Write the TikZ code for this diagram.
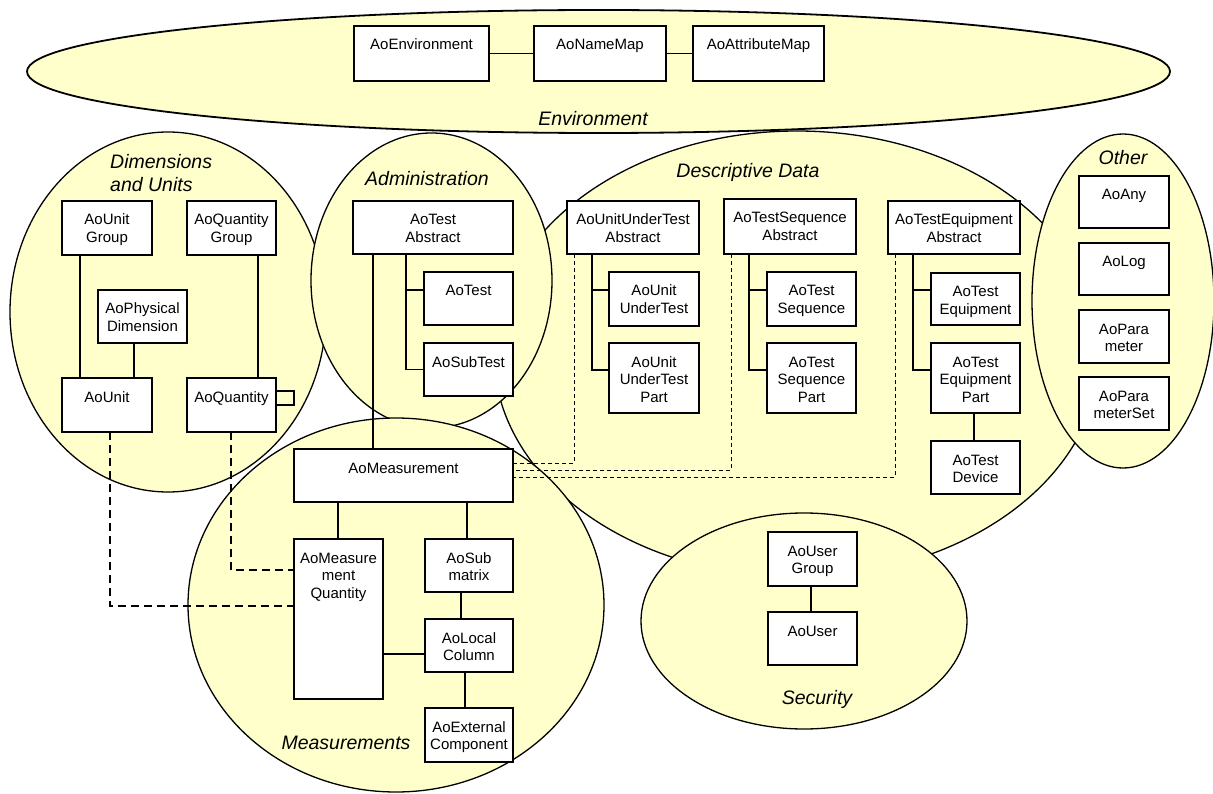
\documentclass[tikz,border=0pt]{standalone}
\usepackage{fontspec}
\setmainfont{Liberation Sans}
\definecolor{regfill}{RGB}{255,255,204}
\newcommand{\bx}[3]{\parbox[c][#2pt][t]{#1pt}{\centering\rule{0pt}{24pt}#3}}
\tikzset{
  region/.style={draw=black, fill=regfill, line width=1.3pt},
  box/.style={draw=black, fill=white, line width=1.6pt, inner sep=0pt, outer sep=0pt,
              anchor=north west, font=\fontsize{15}{17.5}\selectfont},
  conn/.style={line width=1.5pt},
  ddash/.style={line width=1.4pt, dash pattern=on 8pt off 5pt},
  tdash/.style={line width=1pt, dash pattern=on 4pt off 3pt},
  rlabel/.style={font=\fontsize{19.5}{23}\selectfont\itshape, inner sep=0pt, anchor=base},
}
\begin{document}
\begin{tikzpicture}[x=1pt,y=-1pt]
\useasboundingbox (0,0) rectangle (1213,794);
% regions
\draw[region, line width=1.8pt] (598.5,71.5) ellipse [x radius=571.5pt, y radius=61.5pt];
\draw[region] (797,354) ellipse [x radius=303pt, y radius=223pt];
\draw[region] (168,312) ellipse [x radius=158pt, y radius=180pt];
\draw[region] (431.5,280.5) ellipse [x radius=120.5pt, y radius=147.5pt];
\draw[region] (396,605) ellipse [x radius=208pt, y radius=187pt];
\draw[region] (1123,301) ellipse [x radius=91pt, y radius=167pt];
\draw[region] (804,621) ellipse [x radius=163pt, y radius=108pt];
% region labels
\node[rlabel] (lenv) at (593,126) {Environment};
\node[rlabel, anchor=base west, align=left] (ldim) at (110,192) {Dimensions\\and Units};
\node[rlabel] (ladm) at (427,186) {Administration};
\node[rlabel] (ldesc) at (748,178) {Descriptive Data};
\node[rlabel] (loth) at (1123,165) {Other};
\node[rlabel] (lmeas) at (346,749) {Measurements};
\node[rlabel] (lsec) at (817,704) {Security};
% boxes
\node[box] (env) at (354,26) {\bx{135}{55}{AoEnvironment}};
\node[box] (nmap) at (534,26) {\bx{132}{55}{AoNameMap}};
\node[box] (amap) at (693,26) {\bx{131}{55}{AoAttributeMap}};
\node[box] (ug) at (62,201) {\bx{90}{54}{AoUnit\\Group}};
\node[box] (qg) at (187,201) {\bx{89}{54}{AoQuantity\\Group}};
\node[box] (pd) at (98,290) {\bx{89}{53}{AoPhysical\\Dimension}};
\node[box] (unit) at (62,378) {\bx{90}{54}{AoUnit}};
\node[box] (qty) at (187,378) {\bx{89}{54}{AoQuantity}};
\node[box] (tabs) at (353,201) {\bx{160}{53}{AoTest\\Abstract}};
\node[box] (test) at (424,272) {\bx{89}{53}{AoTest}};
\node[box] (subtest) at (424,343) {\bx{89}{53}{AoSubTest}};
\node[box] (uutabs) at (567,201) {\bx{132}{53}{AoUnitUnderTest\\Abstract}};
\node[box] (uut) at (609,272) {\bx{90}{54}{AoUnit\\UnderTest}};
\node[box] (uutpart) at (609,343) {\bx{90}{70}{AoUnit\\UnderTest\\Part}};
\node[box] (seqabs) at (724,199) {\bx{132}{55}{AoTestSequence\\Abstract}};
\node[box] (seq) at (767,272) {\bx{89}{54}{AoTest\\Sequence}};
\node[box] (seqpart) at (767,343) {\bx{89}{70}{AoTest\\Sequence\\Part}};
\node[box] (eqabs) at (888,201) {\bx{132}{53}{AoTestEquipment\\Abstract}};
\node[box] (eq) at (931,273) {\bx{89}{52}{AoTest\\Equipment}};
\node[box] (eqpart) at (931,343) {\bx{89}{70}{AoTest\\Equipment\\Part}};
\node[box] (dev) at (931,441) {\bx{89}{53}{AoTest\\Device}};
\node[box] (any) at (1079,176) {\bx{90}{52}{AoAny}};
\node[box] (log) at (1079,243) {\bx{90}{52}{AoLog}};
\node[box] (param) at (1079,310) {\bx{90}{53}{AoPara\\meter}};
\node[box] (pset) at (1079,377) {\bx{90}{53}{AoPara\\meterSet}};
\node[box] (meas) at (294,449) {\bx{219}{53}{AoMeasurement}};
\node[box] (mq) at (294,539) {\bx{89}{160}{AoMeasure\\ment\\Quantity}};
\node[box] (sub) at (425,539) {\bx{88}{53}{AoSub\\matrix}};
\node[box] (lc) at (425,619) {\bx{88}{53}{AoLocal\\Column}};
\node[box] (ext) at (425,708) {\bx{88}{54}{AoExternal\\Component}};
\node[box] (ugrp) at (768,532) {\bx{89}{54}{AoUser\\Group}};
\node[box] (user) at (768,612) {\bx{89}{53}{AoUser}};
% solid connectors
\begin{scope}[conn]
\draw (env.east) -- (nmap.west);
\draw (nmap.east) -- (amap.west);
\draw ([xshift=18pt]ug.south west) -- ([xshift=18pt]unit.north west);
\draw ([xshift=71pt]qg.south west) -- ([xshift=71pt]qty.north west);
\draw ([xshift=36pt]pd.south west) -- ([xshift=72pt]unit.north west);
\draw ([yshift=14pt]qty.east) -- ++(18,0) |- (qty.east);
\draw ([xshift=53pt]tabs.south west) |- ([yshift=8.5pt]test.west);
\draw ([xshift=53pt]tabs.south west) |- (subtest.west);
\draw ([xshift=20pt]tabs.south west) -- ([xshift=79pt]meas.north west);
\draw ([xshift=25pt]uutabs.south west) |- ([yshift=9pt]uut.west);
\draw ([xshift=25pt]uutabs.south west) |- ([yshift=8pt]uutpart.west);
\draw ([xshift=25pt]seqabs.south west) |- ([yshift=9pt]seq.west);
\draw ([xshift=25pt]seqabs.south west) |- ([yshift=8pt]seqpart.west);
\draw ([xshift=25pt]eqabs.south west) |- ([yshift=9pt]eq.west);
\draw ([xshift=25pt]eqabs.south west) |- ([yshift=8pt]eqpart.west);
\draw ([xshift=43pt]eqpart.south west) -- ([xshift=43pt]dev.north west);
\draw ([xshift=44pt]meas.south west) -- ([xshift=44pt]mq.north west);
\draw ([xshift=173pt]meas.south west) -- ([xshift=42pt]sub.north west);
\draw ([xshift=36pt]sub.south west) -- ([xshift=36pt]lc.north west);
\draw ([xshift=40pt]lc.south west) -- ([xshift=40pt]ext.north west);
\draw ([yshift=-35pt]mq.east) -- ([yshift=-8.5pt]lc.west);
\draw ([xshift=43pt]ugrp.south west) -- ([xshift=43pt]user.north west);
\end{scope}
% dashed connectors
\draw[ddash] ([xshift=48pt]unit.south west) |- ([yshift=13pt]mq.west);
\draw[ddash] ([xshift=44pt]qty.south west) |- ([yshift=49pt]mq.west);
\draw[tdash] ([xshift=7pt]uutabs.south west) |- ([yshift=12.5pt]meas.east);
\draw[tdash] ([xshift=7pt]seqabs.south west) |- ([yshift=5.5pt]meas.east);
\draw[tdash] ([xshift=7pt]eqabs.south west) |- ([yshift=-1.5pt]meas.east);
\end{tikzpicture}
\end{document}
